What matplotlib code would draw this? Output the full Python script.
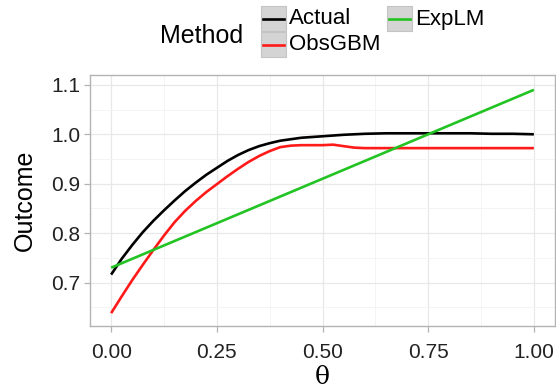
import numpy as np
import matplotlib
matplotlib.use("Agg")
import matplotlib.pyplot as plt
from matplotlib.patches import Rectangle
from matplotlib.lines import Line2D

plt.rcParams['font.family'] = ['Liberation Sans', 'DejaVu Sans']

# data
methods = ["Actual", "ObsGBM", "ExpLM"]
colors = ["#000000", "#ff1a1a", "#22c322"]

theta_actual = [0.000, 0.025, 0.050, 0.075, 0.100, 0.125, 0.150, 0.175, 0.200, 0.225,
                0.250, 0.275, 0.300, 0.325, 0.350, 0.375, 0.400, 0.425, 0.450, 0.500,
                0.550, 0.600, 0.650, 0.700, 0.750, 0.800, 0.850, 0.900, 0.950, 1.000]
y_actual = [0.716, 0.748, 0.776, 0.802, 0.825, 0.846, 0.866, 0.885, 0.902, 0.918,
            0.932, 0.946, 0.958, 0.968, 0.976, 0.982, 0.987, 0.990, 0.993, 0.996,
            0.999, 1.001, 1.002, 1.002, 1.002, 1.002, 1.002, 1.001, 1.001, 1.000]

theta_obs = [0.000, 0.025, 0.050, 0.075, 0.100, 0.125, 0.150, 0.175, 0.200, 0.225,
             0.250, 0.275, 0.300, 0.325, 0.350, 0.375, 0.400, 0.425, 0.450, 0.500,
             0.525, 0.550, 0.575, 0.600, 0.700, 0.800, 0.900, 1.000]
y_obs = [0.638, 0.672, 0.705, 0.736, 0.766, 0.795, 0.822, 0.845, 0.865, 0.883,
         0.899, 0.915, 0.930, 0.944, 0.956, 0.966, 0.974, 0.977, 0.978, 0.978,
         0.979, 0.976, 0.973, 0.972, 0.972, 0.972, 0.972, 0.972]

theta_lm = [0.00, 1.00]
y_lm = [0.730, 1.090]

series = [(theta_actual, y_actual), (theta_obs, y_obs), (theta_lm, y_lm)]

W, H = 556, 391
fig = plt.figure(figsize=(W / 100, H / 100), dpi=100)
ax = fig.add_axes([90 / W, (H - 326) / H, (555 - 90) / W, (326 - 75) / H])

for (x, y), c in zip(series, colors):
    ax.plot(x, y, color=c, lw=1.9, solid_capstyle='butt', solid_joinstyle='round', zorder=3)

ax.set_xlim(-0.05, 1.05)
ax.set_ylim(0.612, 1.12)
ax.set_xticks([0.0, 0.25, 0.5, 0.75, 1.0])
ax.set_xticklabels(["0.00", "0.25", "0.50", "0.75", "1.00"])
ax.set_yticks([0.7, 0.8, 0.9, 1.0, 1.1])
ax.set_xticks([0.125, 0.375, 0.625, 0.875], minor=True)
ax.set_yticks([0.65, 0.75, 0.85, 0.95, 1.05], minor=True)
ax.grid(which='major', color='#e8e8e8', lw=0.9)
ax.grid(which='minor', color='#f4f4f4', lw=0.7)
ax.set_axisbelow(True)
for s in ax.spines.values():
    s.set_color('#b3b3b3')
    s.set_linewidth(1.0)
ax.tick_params(which='major', length=4, width=0.9, color='#b3b3b3',
               labelsize=15, labelcolor='#222222', pad=3)
ax.tick_params(axis='x', which='major', pad=8)
ax.tick_params(which='minor', length=0)
ax.set_xlabel("θ", fontsize=18, family=['DejaVu Serif'], labelpad=3)
ax.set_ylabel("Outcome", fontsize=18, labelpad=10)

# legend drawn at the top, ggplot style
def fx(px):
    return px / W

def fy(py):
    return 1 - py / H

fig.text(fx(160), fy(36), "Method", fontsize=18, va='center', ha='left')
keys = [(261, 6), (261, 32), (387, 6)]
for (kx, ky), name, c in zip(keys, methods, colors):
    fig.patches.append(Rectangle((fx(kx), fy(ky + 25)), 25 / W, 25 / H,
                                 transform=fig.transFigure, facecolor='#d4d4d4',
                                 edgecolor='#c4c4c4', lw=0.8))
    fig.lines.append(Line2D([fx(kx + 2), fx(kx + 23)], [fy(ky + 12.5)] * 2,
                            transform=fig.transFigure, color=c, lw=1.9))
    fig.text(fx(kx + 28), fy(ky + 13), name, fontsize=16, va='center', ha='left')

fig.savefig("out.png", dpi=100)
